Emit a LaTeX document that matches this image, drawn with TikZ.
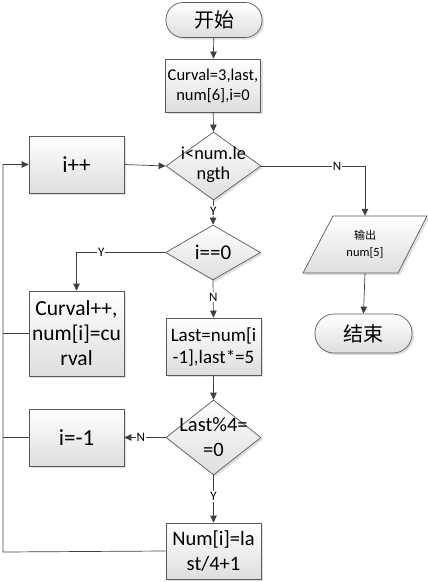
\documentclass[tikz,border=0pt]{standalone}
\usepackage{fontspec}
\setmainfont{Carlito}
\newfontfamily\cjk{Noto Sans CJK SC}
\usetikzlibrary{shapes.geometric,arrows.meta,shadows}
\definecolor{edge}{HTML}{5A5A5A}
\definecolor{wire}{HTML}{404040}
\begin{document}
\begin{tikzpicture}[x=1pt,y=-1pt,
  base/.style={draw=edge, line width=0.7pt, top color=white, bottom color=black!13,
    drop shadow={opacity=0.25, shadow xshift=2pt, shadow yshift=-2pt}},
  box/.style={base, rectangle, minimum width=95pt, align=center, inner sep=0pt},
  term/.style={base, rectangle, rounded corners=17pt, inner sep=0pt},
  dec/.style={base, diamond, minimum width=95pt, inner sep=0pt},
  txt/.style={align=center, inner sep=0pt},
  arr/.style={draw=wire, line width=0.7pt, -{Triangle[length=7pt,width=6.5pt]}},
  ln/.style={draw=wire, line width=0.7pt},
  yn/.style={fill=white, inner sep=1pt, font=\fontsize{13}{14}\selectfont}]
\useasboundingbox (0,0) rectangle (428,582);

% start
\node[term, minimum width=96pt, minimum height=35pt, font=\cjk\fontsize{20}{22}\selectfont] (start) at (214,20) {开始};
\node[box, minimum height=53pt, font=\fontsize{16.5}{20}\selectfont] (b1) at (213,85.5) {Curval=3,last,\\num[6],i=0};

% decision 1
\node[dec, minimum height=68pt] (d1) at (213.5,166) {};
\node[txt, font=\fontsize{18.3}{20}\selectfont] (d1t) at (213.5,165) {i<num.le\\ngth};

\node[box, minimum height=57pt, font=\fontsize{23}{24}\selectfont] (ipp) at (76.5,164.5) {i++};

% output parallelogram
\node[inner sep=0pt, minimum width=95pt, minimum height=57pt] (para) at (365,244.5) {};
\path[base] (333,216) -- (427,216) -- (398,273) -- (303,273) -- cycle;
\node[txt, font=\fontsize{12.5}{17}\selectfont] (parat) at (365,244) {{\cjk\fontsize{11}{13}\selectfont 输出}\\num[5]};

\node[term, minimum width=97pt, minimum height=39pt, rounded corners=19pt, font=\cjk\fontsize{20}{22}\selectfont] (end) at (363.5,333.5) {结束};

% decision 2
\node[dec, minimum height=55pt] (d2) at (213,252.5) {};
\node[txt, font=\fontsize{21}{22}\selectfont] (d2t) at (213,252.5) {i==0};

\node[box, minimum height=85pt, font=\fontsize{21.5}{25}\selectfont] (cur) at (76.5,333.5) {Curval++,\\num[i]=cu\\rval};

\node[box, minimum height=57pt, font=\fontsize{19}{22}\selectfont] (last) at (213.5,346.5) {Last=num[i\\-1],last*=5};

% decision 3
\node[dec, minimum height=75pt] (d3) at (213.5,437.5) {};
\node[txt, font=\fontsize{20.5}{25}\selectfont] (d3t) at (213.5,437) {Last\%4=\\=0};

\node[box, minimum height=57pt, font=\fontsize{23}{24}\selectfont] (im) at (76.5,437.5) {i=-1};

\node[box, minimum height=56pt, font=\fontsize{20.5}{25}\selectfont] (num) at (213.5,551) {Num[i]=la\\st/4+1};

\coordinate (lb) at (3,552);

% connectors
\draw[arr] (start) -- (b1);
\draw[arr] (b1) -- (d1.north);
\draw[arr] (ipp.east) -- (d1.west);
\draw[arr] (d1.east) -| node[yn, pos=0.365] {N} (para.north);
\draw[arr] (d1.south) -- node[yn, pos=0.45] {Y} (d2.north);
\draw[arr] (d2.west) -| node[yn, pos=0.36] {Y} (cur.north);
\draw[arr] (d2.south) -- node[yn, pos=0.45] {N} (last.north);
\draw[arr] (last.south) -- (d3.north);
\draw[arr] (d3.west) -- node[yn, pos=0.6] {N} (im.east);
\draw[arr] (d3.south) -- node[yn, pos=0.45] {Y} (num.north);
\draw[arr] (para.south) -- (end.north);
\draw[arr] (num.west) -- (lb) |- (ipp.west);
\draw[ln] (cur.west) -- (cur.west -| lb);
\draw[ln] (im.west) -- (im.west -| lb);
\end{tikzpicture}
\end{document}
